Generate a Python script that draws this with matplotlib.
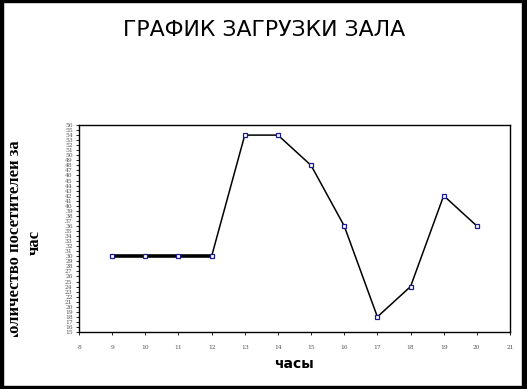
import matplotlib.pyplot as plt
from matplotlib.patches import Rectangle
from matplotlib.transforms import Bbox

# ---------- DATA ----------
hours = [9, 10, 11, 12, 13, 14, 15, 16, 17, 18, 19, 20]
visitors = [30, 30, 30, 30, 54, 54, 48, 36, 18, 24, 42, 36]
x_ticks = list(range(8, 22))
y_ticks = list(range(15, 57))

W, H = 527, 389
fig = plt.figure(figsize=(W / 100, H / 100), dpi=100)
fig.patch.set_facecolor("white")

ax = fig.add_axes([79 / W, 1 - 332 / H, (510 - 79) / W, (332 - 125) / H])

ax.plot(hours, visitors, color="black", lw=1.1, zorder=2)
ax.plot(hours[:4], visitors[:4], color="black", lw=2.6, zorder=2)
ax.plot(hours, visitors, ls="none", marker="s", ms=3, mfc="white",
        mec="#1a1a8c", mew=0.9, zorder=3)

ax.set_xlim(8, 21)
ax.set_ylim(15, 56)
ax.set_xticks(x_ticks)
ax.set_yticks(y_ticks)
ax.tick_params(axis="both", labelsize=4.3, length=2.5, width=0.6,
               colors="black", labelcolor="#555555", pad=2)
ax.tick_params(axis="x", pad=7)
for lbl in ax.get_xticklabels() + ax.get_yticklabels():
    lbl.set_family("DejaVu Serif")
for s in ax.spines.values():
    s.set_linewidth(1.0)
    s.set_color("black")

# ---------- TEXT ----------
fig.text(264 / W, 1 - 30 / H, "ГРАФИК ЗАГРУЗКИ ЗАЛА", ha="center", va="center",
         fontsize=15.8, family="DejaVu Sans")
fig.text(294 / W, 1 - 364 / H, "часы", ha="center", va="center",
         fontsize=10, fontweight="bold", family="DejaVu Sans")

yl = fig.text(25 / W, 1 - 242 / H, "Количество посетителей за\nчас",
              ha="center", va="center", rotation=90, fontsize=12,
              fontweight="bold", family="Liberation Serif", linespacing=1.3)
yl.set_clip_box(Bbox.from_extents(10, H - 337, 60, H - 136))
yl.set_clip_on(True)

# black frame around picture
fig.patches.append(Rectangle((0, 0), 3 / W, 1, transform=fig.transFigure,
                             color="black", zorder=10))
fig.patches.append(Rectangle((1 - 5 / W, 0), 5 / W, 1, transform=fig.transFigure,
                             color="black", zorder=10))
fig.patches.append(Rectangle((0, 1 - 2 / H), 1, 2 / H, transform=fig.transFigure,
                             color="black", zorder=10))
fig.patches.append(Rectangle((0, 0), 1, 3 / H, transform=fig.transFigure,
                             color="black", zorder=10))

fig.savefig("out.png", dpi=100)
